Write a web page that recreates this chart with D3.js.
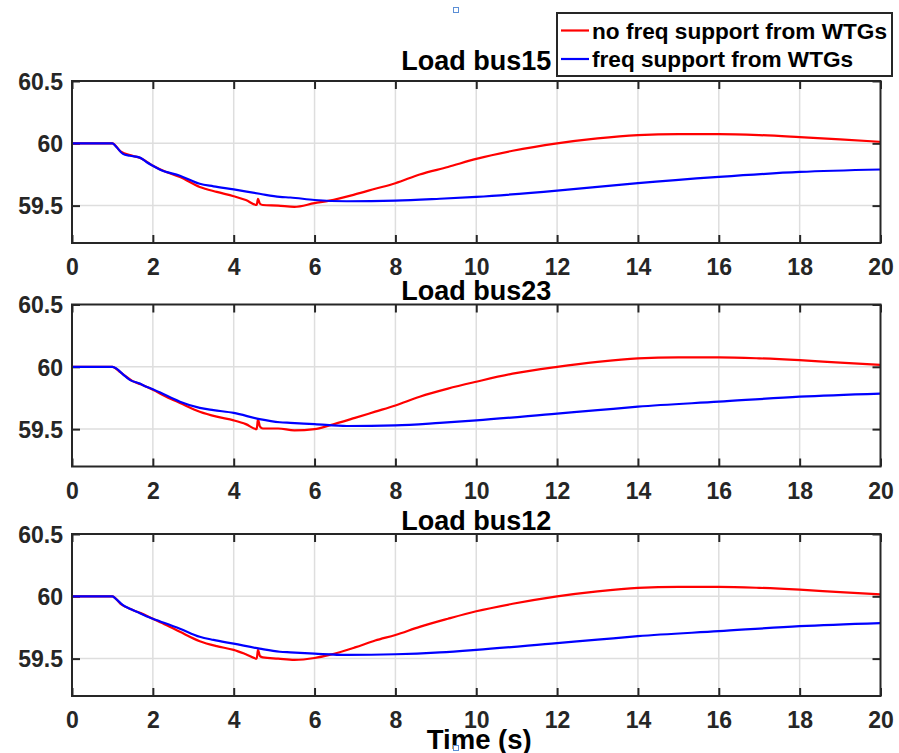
<!DOCTYPE html>
<html>
<head>
<meta charset="utf-8">
<script src="https://cdn.jsdelivr.net/npm/d3@7"></script>
<style>
  html, body { margin: 0; padding: 0; background: #fff; }
  svg { display: block; font-family: "Liberation Sans", Arial, Helvetica, sans-serif; }
</style>
</head>
<body>
<svg id="chart" width="899" height="753"></svg>
<script>
// Frequency response at three load buses after a generation loss (Hz vs. s)
const busNames = ["Load bus15", "Load bus23", "Load bus12"];
const seriesNames = ["no freq support from WTGs", "freq support from WTGs"];
const xTicks = [0, 2, 4, 6, 8, 10, 12, 14, 16, 18, 20];
const yTicks = [59.5, 60, 60.5];
const yTickLabels = ["59.5", "60", "60.5"];

// time stamps (s) for the case without WTG support
const tNoSupport = [0, 1.0, 1.2, 1.5, 1.7, 2.0, 2.33, 2.67, 3.16, 3.58, 4.0, 4.3, 4.57, 4.6, 4.65, 4.72,
  5.1, 5.5, 6.0, 6.37, 7.0, 7.5, 8.0, 8.6, 9.3, 10.0, 10.9, 12.0, 13.0, 14.0, 15.0, 16.0, 17.0, 18.0, 19.0, 20.0];
// time stamps (s) for the case with WTG support
const tSupport = [0, 1.0, 1.1, 1.26, 1.43, 1.68, 1.84, 2.0, 2.17, 2.67, 3.16, 3.5, 4.0, 4.64, 5.14, 5.4,
  6.0, 6.8, 8.0, 9.1, 10.0, 12.0, 13.0, 14.0, 16.0, 18.0, 20.0];

const bus15NoSupport = [60, 60, 59.935, 59.9, 59.88, 59.82, 59.77, 59.73, 59.65, 59.61, 59.575, 59.545, 59.505, 59.555, 59.515, 59.505,
  59.5, 59.49, 59.52, 59.54, 59.59, 59.635, 59.68, 59.75, 59.81, 59.875, 59.94, 60.0, 60.04, 60.066, 60.074, 60.074, 60.066, 60.05, 60.032, 60.012];
const bus15Support = [60, 60, 59.97, 59.915, 59.9, 59.885, 59.85, 59.82, 59.79, 59.74, 59.675, 59.655, 59.63, 59.595, 59.57, 59.565,
  59.545, 59.535, 59.54, 59.555, 59.57, 59.62, 59.65, 59.68, 59.73, 59.77, 59.79];

const bus23NoSupport = [60, 60, 59.955, 59.885, 59.86, 59.815, 59.76, 59.71, 59.64, 59.6, 59.57, 59.54, 59.5, 59.58, 59.52, 59.505,
  59.505, 59.49, 59.5, 59.53, 59.59, 59.64, 59.69, 59.76, 59.825, 59.88, 59.945, 60.0, 60.04, 60.068, 60.076, 60.076, 60.068, 60.053, 60.033, 60.015];
const bus23Support = [60, 60, 59.985, 59.94, 59.895, 59.865, 59.84, 59.82, 59.795, 59.72, 59.67, 59.652, 59.63, 59.58, 59.555, 59.55,
  59.54, 59.525, 59.53, 59.55, 59.57, 59.625, 59.652, 59.68, 59.72, 59.76, 59.785];

const bus12NoSupport = [60, 60, 59.94, 59.89, 59.865, 59.82, 59.77, 59.715, 59.64, 59.6, 59.57, 59.535, 59.5, 59.57, 59.52, 59.51,
  59.5, 59.49, 59.505, 59.53, 59.59, 59.645, 59.69, 59.755, 59.82, 59.88, 59.94, 60.0, 60.04, 60.068, 60.076, 60.076, 60.068, 60.053, 60.033, 60.015];
const bus12Support = [60, 60, 59.975, 59.93, 59.9, 59.865, 59.84, 59.82, 59.8, 59.74, 59.675, 59.65, 59.62, 59.58, 59.555, 59.55,
  59.54, 59.53, 59.535, 59.55, 59.57, 59.625, 59.652, 59.68, 59.72, 59.76, 59.785];

const noSupportByBus = [bus15NoSupport, bus23NoSupport, bus12NoSupport];
const supportByBus = [bus15Support, bus23Support, bus12Support];
const seriesColors = ["#ff0000", "#0000ff"];

const svg = d3.select("#chart");
const left = 72, right = 880.5, plotH = 162;
const panelTops = [81, 304.5, 534];
const titleGaps = [11, 4.5, 4];
const axisColor = "#262626";
const gridColor = "#dedede";
const tickLen = 8;

const x = d3.scaleLinear().domain([0, 20]).range([left, right]);

panelTops.forEach((top, i) => {
  const y = d3.scaleLinear().domain([59.2, 60.5]).range([top + plotH, top]);
  const g = svg.append("g");

  // grid
  g.append("g").selectAll("line").data(xTicks.slice(1, -1)).join("line")
    .attr("x1", d => x(d)).attr("x2", d => x(d))
    .attr("y1", top).attr("y2", top + plotH)
    .attr("stroke", gridColor).attr("stroke-width", 1.5);
  g.append("g").selectAll("line").data(yTicks.filter(v => v < 60.5)).join("line")
    .attr("x1", left).attr("x2", right)
    .attr("y1", d => y(d)).attr("y2", d => y(d))
    .attr("stroke", gridColor).attr("stroke-width", 1.5);

  // bottom / left axes with inward ticks and mirrored ticks on top / right
  const xAxis = d3.axisBottom(x).tickValues(xTicks).tickSizeInner(-tickLen).tickSizeOuter(0).tickPadding(16);
  const gx = g.append("g").attr("transform", `translate(0,${top + plotH})`).call(xAxis);
  const yAxis = d3.axisLeft(y).tickValues(yTicks).tickFormat((d, k) => yTickLabels[k])
    .tickSizeInner(-tickLen).tickSizeOuter(0).tickPadding(9);
  const gy = g.append("g").attr("transform", `translate(${left},0)`).call(yAxis);
  const gxt = g.append("g").attr("transform", `translate(0,${top})`)
    .call(d3.axisTop(x).tickValues(xTicks).tickSizeInner(-tickLen).tickSizeOuter(0).tickFormat(""));
  const gyr = g.append("g").attr("transform", `translate(${right},0)`)
    .call(d3.axisRight(y).tickValues(yTicks).tickSizeInner(-tickLen).tickSizeOuter(0).tickFormat(""));

  [gx, gy, gxt, gyr].forEach(a => {
    a.select(".domain").remove();
    a.selectAll(".tick line").attr("stroke", axisColor).attr("stroke-width", 2);
    a.selectAll(".tick text").attr("fill", axisColor)
      .style("font-size", "23px").style("font-weight", "bold");
  });
  gx.selectAll(".tick text").attr("dy", "0.71em");
  gy.selectAll(".tick text").attr("dy", "0.36em");

  // series
  const line = d3.line().curve(d3.curveMonotoneX);
  const redPts = tNoSupport.map((t, k) => [x(t), y(noSupportByBus[i][k])]);
  const bluePts = tSupport.map((t, k) => [x(t), y(supportByBus[i][k])]);
  g.append("path").attr("d", line(redPts)).attr("fill", "none")
    .attr("stroke", seriesColors[0]).attr("stroke-width", 2.2).attr("stroke-linejoin", "round");
  g.append("path").attr("d", line(bluePts)).attr("fill", "none")
    .attr("stroke", seriesColors[1]).attr("stroke-width", 2.2).attr("stroke-linejoin", "round");

  // axes box
  g.append("rect").attr("x", left).attr("y", top).attr("width", right - left).attr("height", plotH)
    .attr("fill", "none").attr("stroke", axisColor).attr("stroke-width", 2);

  // panel title
  g.append("text").attr("x", (left + right) / 2).attr("y", top - titleGaps[i])
    .attr("text-anchor", "middle").style("font-size", "27px").style("font-weight", "bold")
    .attr("fill", "#000").text(busNames[i]);
});

// x-axis label
svg.append("text").attr("x", (left + right) / 2 + 3).attr("y", 749)
  .attr("text-anchor", "middle").style("font-size", "27.5px").style("font-weight", "bold")
  .attr("fill", "#000").text("Time (s)");

// legend
const lg = svg.append("g");
lg.append("rect").attr("x", 557).attr("y", 13).attr("width", 335).attr("height", 63)
  .attr("fill", "#fff").attr("stroke", axisColor).attr("stroke-width", 2);
seriesNames.forEach((name, k) => {
  const cy = 30.5 + k * 28.5;
  lg.append("line").attr("x1", 561).attr("x2", 589).attr("y1", cy).attr("y2", cy)
    .attr("stroke", seriesColors[k]).attr("stroke-width", 2.2);
  lg.append("text").attr("x", 592).attr("y", cy).attr("dy", "0.36em")
    .style("font-size", "22.6px").style("font-weight", "bold").attr("fill", "#000").text(name);
});

// selection handles of the figure
[10, 748].forEach(cy => {
  svg.append("rect").attr("x", 453.5).attr("y", cy - 2.5).attr("width", 5).attr("height", 5)
    .attr("fill", "#fff").attr("stroke", "#5b8fd6").attr("stroke-width", 1);
});
</script>
</body>
</html>
